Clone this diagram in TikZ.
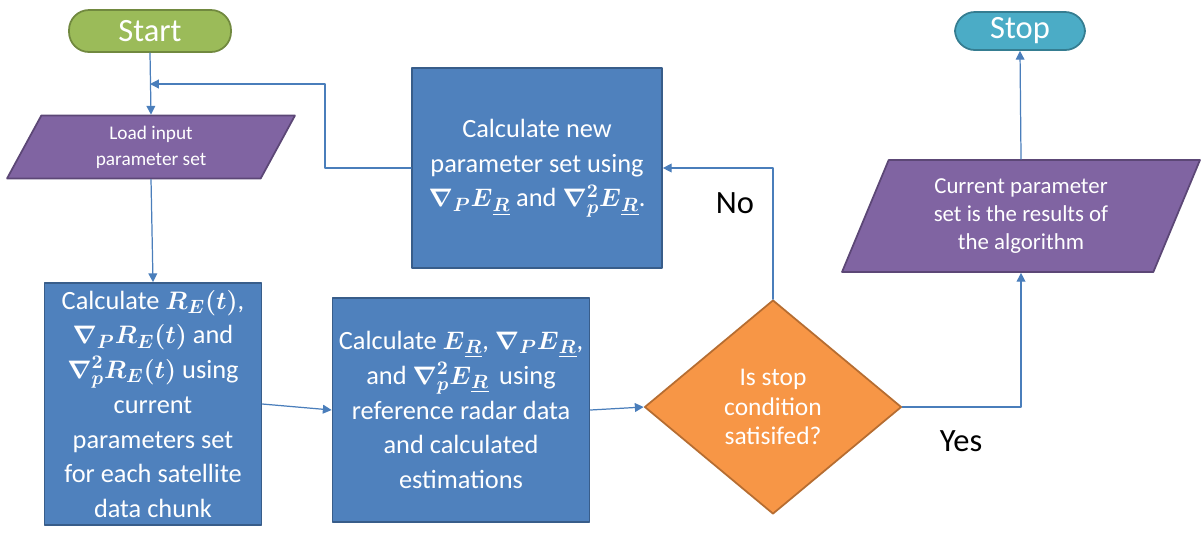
\documentclass[tikz,border=0pt]{standalone}
\usepackage{amsmath,amssymb}
\usepackage{fontspec}
\setmainfont{Carlito}
\usetikzlibrary{shapes.geometric,arrows.meta}

\definecolor{termgreen}{HTML}{9BBB59}
\definecolor{termgreendk}{HTML}{71893F}
\definecolor{termteal}{HTML}{4BACC6}
\definecolor{termtealdk}{HTML}{357D91}
\definecolor{iopurple}{HTML}{8064A2}
\definecolor{iopurpledk}{HTML}{5C4776}
\definecolor{procblue}{HTML}{4F81BD}
\definecolor{procbluedk}{HTML}{385D8A}
\definecolor{decorange}{HTML}{F79646}
\definecolor{decorangedk}{HTML}{B66D31}
\definecolor{flowline}{HTML}{4A7EBB}

% math shorthands
\newcommand{\ERbar}{\boldsymbol{E}_{\underline{\boldsymbol{R}}}}
\newcommand{\gradP}{\boldsymbol{\nabla}_{\boldsymbol{P}}}
\newcommand{\gradPP}{\boldsymbol{\nabla}^{\boldsymbol{2}}_{\boldsymbol{p}}}
\newcommand{\RE}{\boldsymbol{R_E(t)}}

\begin{document}
\begin{tikzpicture}[x=0.02cm,y=-0.02cm,line cap=round,line join=round]
    % styles
    \tikzstyle{terminal}=[rounded corners=0.4cm,line width=1pt,text=white,font=\fontsize{18.5}{22}\selectfont]
    \tikzstyle{io}=[trapezium,trapezium stretches body,line width=1pt,fill=iopurple,draw=iopurpledk,text=white,align=center,inner sep=0pt]
    \tikzstyle{proc}=[rectangle,line width=1pt,fill=procblue,draw=procbluedk,text=white,align=center,inner sep=0pt,font=\fontsize{15}{19.8}\selectfont]
    \tikzstyle{decide}=[diamond,line width=1pt,fill=decorange,draw=decorangedk,text=white,align=center,inner sep=0pt,font=\fontsize{14.5}{17}\selectfont]
    \tikzstyle{arr}=[draw=flowline,line width=0.7pt,-{Triangle[length=5pt,width=5pt]}]
    \tikzstyle{answer}=[font=\fontsize{18.5}{22}\selectfont,text=black]

    \useasboundingbox (0,0) rectangle (1203,539);

    % ----------------------------------------------------
    % left column : start, input, first calculation
    % ----------------------------------------------------
    \node[terminal,fill=termgreen,draw=termgreendk,minimum width=3.24cm,minimum height=0.84cm] (start) at (150,31) {Start};
    \node[io,trapezium left angle=51,trapezium right angle=129,minimum width=5.76cm,minimum height=1.26cm,font=\fontsize{11}{14.7}\selectfont] (load) at (151,147) {Load input\\parameter set};
    \node[proc,minimum width=4.34cm,minimum height=4.84cm] (calc1) at (153,404)
      {Calculate $\RE$,\\$\gradP\RE$ and\\$\gradPP\RE$ using\\current\\parameters set\\for each satellite\\data chunk};

    % ----------------------------------------------------
    % middle : error terms, update, decision
    % ----------------------------------------------------
    \node[proc,minimum width=5.14cm,minimum height=4.48cm] (calc2) at (461,410)
      {Calculate $\ERbar$, $\gradP\ERbar$,\\and $\gradPP\ERbar$ \,using\\reference radar data\\and calculated\\estimations};
    \node[proc,minimum width=5.0cm,minimum height=4.0cm] (newp) at (537,168)
      {Calculate new\\parameter set using\\$\gradP\ERbar$ and $\gradPP\ERbar$.};
    \node[decide,minimum width=5.14cm,minimum height=4.28cm] (cond) at (773,407)
      {Is stop\\condition\\satisifed?};

    % ----------------------------------------------------
    % right column : result and stop
    % ----------------------------------------------------
    \node[io,trapezium left angle=58,trapezium right angle=122,minimum width=7.16cm,minimum height=2.24cm,font=\fontsize{13}{15.9}\selectfont] (result) at (1021,216)
      {Current parameter\\set is the results of\\the algorithm};
    \node[terminal,fill=termteal,draw=termtealdk,minimum width=2.6cm,minimum height=0.76cm] (stop) at (1020,31) {Stop};

    % labels on the branches
    \node[answer] (nolbl) at (735,203) {No};
    \node[answer] (yeslbl) at (961,441) {Yes};

    % connectors
    \coordinate (merge) at (150,84);
    \coordinate (loopbend) at (325,84);
    \draw[arr] (start.south) -- (load.north);
    \draw[arr] (load.south) -- (calc1.north);
    \draw[arr] (calc1.east) -- (calc2.west);
    \draw[arr] (calc2.east) -- (cond.west);
    \draw[arr] (cond.north) |- (newp.east);
    \draw[arr] (newp.west) -| (loopbend) -- (merge);
    \draw[arr] (cond.east) -| (result.south);
    \draw[arr] (result.north) -- (stop.south);
\end{tikzpicture}
\end{document}
